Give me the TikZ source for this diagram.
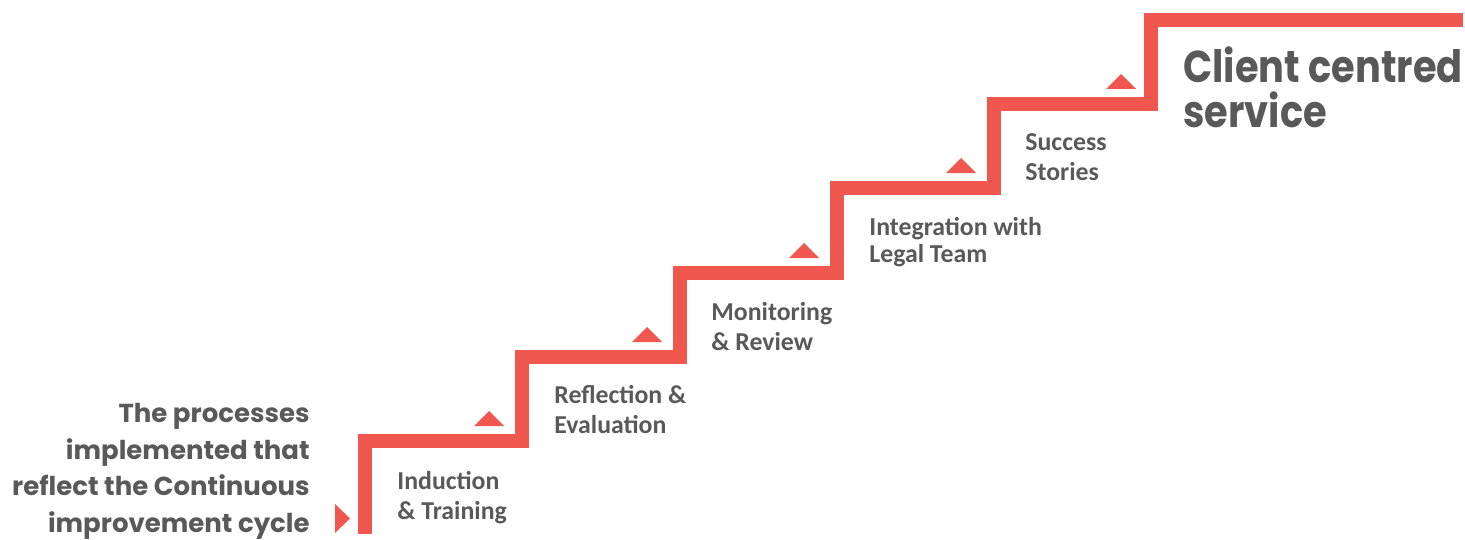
\documentclass[tikz,border=0pt]{standalone}
\usepackage{fontspec}
\setmainfont{Carlito}
\newfontfamily\titlefont{Poppins}[FakeStretch=0.86]
\newfontfamily\cyclefont{Poppins}
\usetikzlibrary{positioning}

\definecolor{stair red}{HTML}{F0574F}
\definecolor{label grey}{HTML}{595959}

\tikzstyle{stair}=[draw=stair red, line width=7pt]
\tikzstyle{step marker}=[fill=stair red]
\tikzstyle{step label}=[text=label grey, inner sep=0, anchor=west, align=left, font=\bfseries\fontsize{12.9}{15}\selectfont]
\tikzstyle{goal label}=[step label, font=\titlefont\bfseries\fontsize{22.3}{22.5}\selectfont]
\tikzstyle{cycle label}=[step label, anchor=east, align=right, font=\cyclefont\bfseries\fontsize{13}{18.3}\selectfont]

\begin{document}
\begin{tikzpicture}[x=0.5pt, y=-0.5pt]
    \useasboundingbox (0, 0) rectangle (1465, 540);

    % left corner of every tread
    \coordinate (foot) at (365, 534);
    \coordinate (tread_1) at (365, 441);
    \coordinate (tread_2) at (522, 357);
    \coordinate (tread_3) at (680, 273);
    \coordinate (tread_4) at (837, 188);
    \coordinate (tread_5) at (994, 104);
    \coordinate (tread_6) at (1151, 20);
    \coordinate (top) at (1463, 20);

    \draw[stair] (foot) -- (tread_1)
      -| (tread_2) -| (tread_3) -| (tread_4)
      -| (tread_5) -| (tread_6) -- (top);

    % little markers in front of each riser
    \fill[step marker] (335, 504) -- (350, 518.5) -- (335, 533) -- cycle;
    \fill[step marker] (474, 426) -- ++(30, 0) -- ++(-15, -15) -- cycle;
    \fill[step marker] (632, 342) -- ++(30, 0) -- ++(-15, -15) -- cycle;
    \fill[step marker] (789, 258) -- ++(30, 0) -- ++(-15, -15) -- cycle;
    \fill[step marker] (946, 173) -- ++(30, 0) -- ++(-15, -15) -- cycle;
    \fill[step marker] (1106, 89) -- ++(30, 0) -- ++(-15, -15) -- cycle;

    \node[step label] (induction) at (397, 497.5) {Induction\\\& Training};
    \node[step label] (reflection) at (554, 409.5) {Reflection \&\\Evaluation};
    \node[step label] (monitoring) at (711, 327) {Monitoring\\\& Review};
    \node[step label, font=\bfseries\fontsize{12.9}{13.5}\selectfont]
      (integration) at (869, 242) {Integration with\\Legal Team};
    \node[step label] (success) at (1025, 157.5) {Success\\Stories};

    \node[goal label] (client) at (1183, 87) {Client centred\\service};
    \node[cycle label] (processes) at (310, 471.5)
      {The processes\\implemented that\\reflect the Continuous\\improvement cycle};
  \end{tikzpicture}
\end{document}
